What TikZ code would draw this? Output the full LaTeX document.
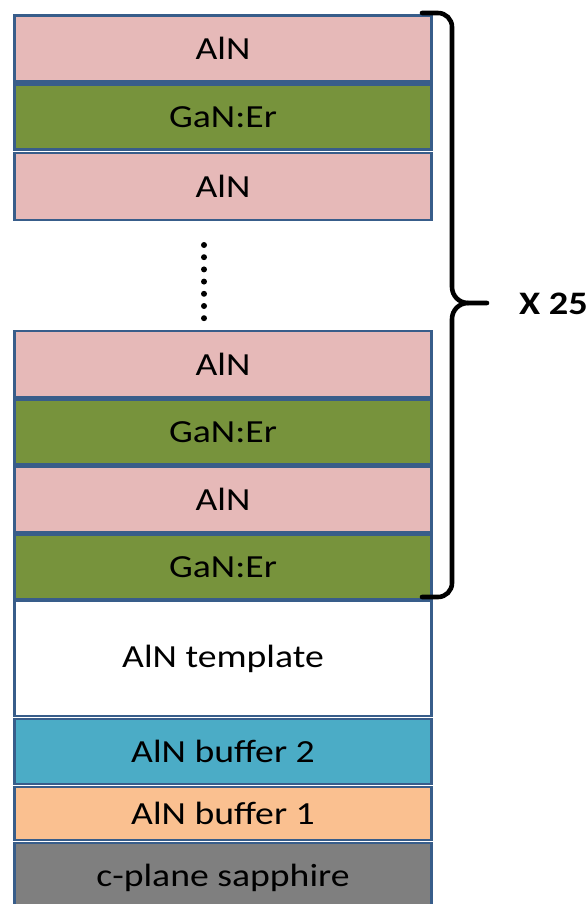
\documentclass[tikz,border=0pt]{standalone}
\usepackage{fontspec}
\setmainfont{Carlito}[FakeStretch=1.17]
\definecolor{alnpink}{HTML}{E6B9B8}
\definecolor{ganergreen}{HTML}{77933C}
\definecolor{bufferaqua}{HTML}{4BACC6}
\definecolor{bufferorange}{HTML}{FAC090}
\definecolor{sapphiregray}{HTML}{7F7F7F}
\definecolor{layerblue}{HTML}{385D8A}
\tikzset{
    layer/.style={draw=layerblue, line width=2.2pt, rectangle, minimum width=12.52cm, inner sep=0pt, font=\fontsize{27.5}{32}\selectfont},
    alnlayer/.style={layer, fill=alnpink, minimum height=1.97cm},
    ganlayer/.style={layer, fill=ganergreen, minimum height=1.95cm},
    templatelayer/.style={layer, fill=white, minimum height=3.46cm},
    bufferlayer/.style={layer, minimum height=1.96cm},
    dotmark/.style={circle, fill=black, inner sep=0pt, minimum size=0.18cm},
    bracepen/.style={line width=3.9pt, line cap=round},
    repeatlabel/.style={font=\fontsize{28}{32}\selectfont\bfseries},
}
\begin{document}
\begin{tikzpicture}[x=0.03cm, y=-0.03cm]
    \useasboundingbox (0,0) rectangle (587,904);

    % Upper period
    \node[alnlayer] (alnA) at (223, 48.5) {AlN};
    \node[ganlayer] (ganA) at (223, 117) {GaN:Er};
    \node[alnlayer, minimum height=2.02cm] (alnB) at (223, 186.5) {AlN};

    % Skipped periods
    \foreach \k in {0,...,6}
        \node[dotmark] (dot\k) at (204, 245 + 12.2*\k) {};

    % Lower periods
    \node[alnlayer] (alnC) at (223, 364) {AlN};
    \node[ganlayer] (ganB) at (223, 432) {GaN:Er};
    \node[alnlayer] (alnD) at (223, 499.5) {AlN};
    \node[ganlayer] (ganC) at (223, 567) {GaN:Er};

    % Template, buffers, substrate
    \node[templatelayer] (template) at (223, 658.5) {AlN template};
    \node[bufferlayer, fill=bufferaqua] (buffer2) at (223, 751.5) {AlN buffer 2};
    \node[bufferlayer, fill=bufferorange, minimum height=1.60cm] (buffer1) at (223, 813.5) {AlN buffer 1};
    \node[bufferlayer, fill=sapphiregray, minimum height=2.11cm] (sapphire) at (223, 878) {c-plane sapphire};

    % Brace over the repeated stack
    \coordinate (bracetop) at (422, 13);
    \coordinate (bracetip) at (487, 303);
    \coordinate (bracebot) at (422, 597);
    \draw[bracepen] (bracetop) -- (438, 13) to[out=0, in=90] (452, 27) -- (452, 287)
        to[out=-90, in=180] (468, 303) -- (bracetip);
    \draw[bracepen] (468, 303) to[out=180, in=90] (452, 319) -- (452, 583)
        to[out=-90, in=0] (438, 597) -- (bracebot);
    \node[repeatlabel, anchor=west] (times) at (515, 304) {X 25};
\end{tikzpicture}
\end{document}
